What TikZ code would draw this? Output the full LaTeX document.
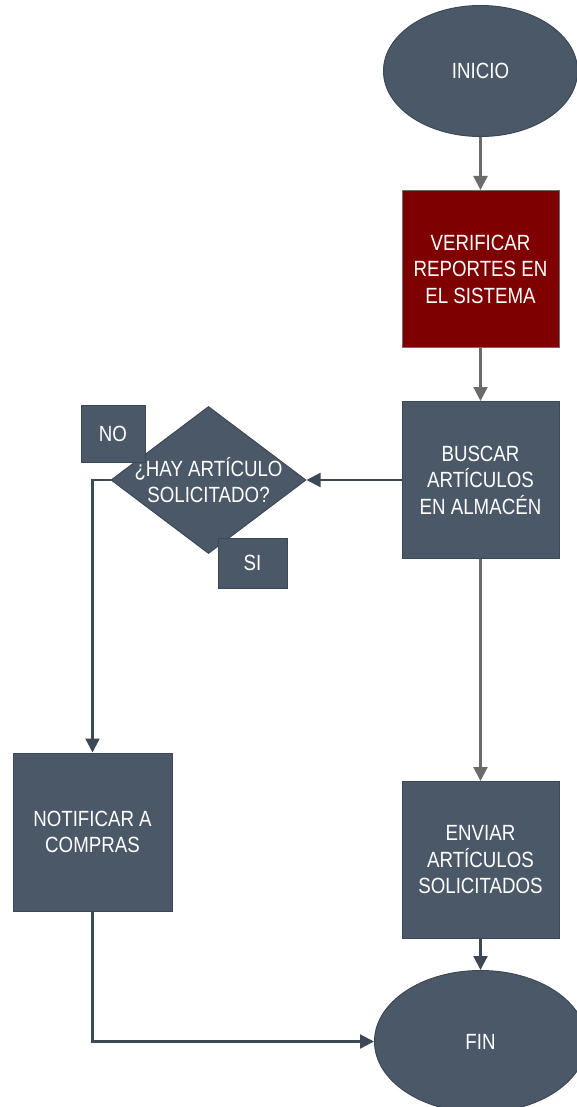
\documentclass[tikz,border=0pt]{standalone}
\usepackage{fontspec}
\setmainfont{Liberation Sans}[FakeStretch=0.85]
\usetikzlibrary{positioning,arrows.meta,shapes.geometric}
\definecolor{pizarra}{HTML}{4B5868}
\definecolor{borde}{HTML}{3C4856}
\definecolor{granate}{HTML}{7F0000}
\definecolor{gris}{HTML}{6B6B6B}

\begin{document}
\begin{tikzpicture}[
  x=1pt,y=-1pt,
  node distance=53pt,
  every node/.style={font=\fontsize{22}{26.5}\selectfont,align=center,text=white},
  term/.style={ellipse,draw=borde,fill=pizarra,line width=1pt,inner sep=0pt},
  proc/.style={rectangle,draw=borde,fill=pizarra,line width=1pt,inner sep=0pt,
    minimum width=157pt,minimum height=157pt},
  dec/.style={diamond,draw=borde,fill=pizarra,line width=1pt,inner sep=0pt,
    minimum width=195pt,minimum height=147pt},
  tag/.style={rectangle,draw=borde,fill=pizarra,line width=1pt,inner sep=0pt},
  edge/.style={-{Triangle[length=14pt,width=14pt]},line width=2.2pt,draw=borde},
  edgegris/.style={edge,draw=gris}
 ]
  \useasboundingbox (0,0) rectangle (577,1107);
  \node[term,minimum width=194pt,minimum height=131pt] (inicio) at (480.5,71) {INICIO};
  \node[proc,fill=granate,draw=gris,below=53pt of inicio] (verif) {VERIFICAR\\REPORTES EN\\EL SISTEMA};
  \node[proc,below=53pt of verif] (buscar) {BUSCAR\\ARTÍCULOS\\EN ALMACÉN};
  \node[dec,left=95pt of buscar] (pregunta)
    {\makebox[0pt]{¿HAY ARTÍCULO}\\\makebox[0pt]{SOLICITADO?}};
  \node[tag,minimum width=64pt,minimum height=57pt] (no) at (113,433.5) {NO};
  \node[tag,minimum width=69pt,minimum height=50pt] (si) at (252.5,563) {SI};
  \node[proc,minimum width=159pt,minimum height=158pt] (notif) at (92.5,832) {NOTIFICAR A\\COMPRAS};
  \node[proc,below=222pt of buscar] (envia) {ENVIAR\\ARTÍCULOS\\SOLICITADOS};
  \node[term,minimum width=212pt,minimum height=142pt,below=31pt of envia] (fin) {FIN};
  \draw[edgegris] (inicio) -- (verif);
  \draw[edgegris] (verif) -- (buscar);
  \draw[edgegris] (buscar) -- (envia);
  \draw[edge] (buscar) -- (pregunta);
  \draw[edge] (pregunta.west) -| (notif.north);
  \draw[edge] (envia) -- (fin);
  \draw[edge] (notif.south) |- (fin.west);
 \end{tikzpicture}
\end{document}
